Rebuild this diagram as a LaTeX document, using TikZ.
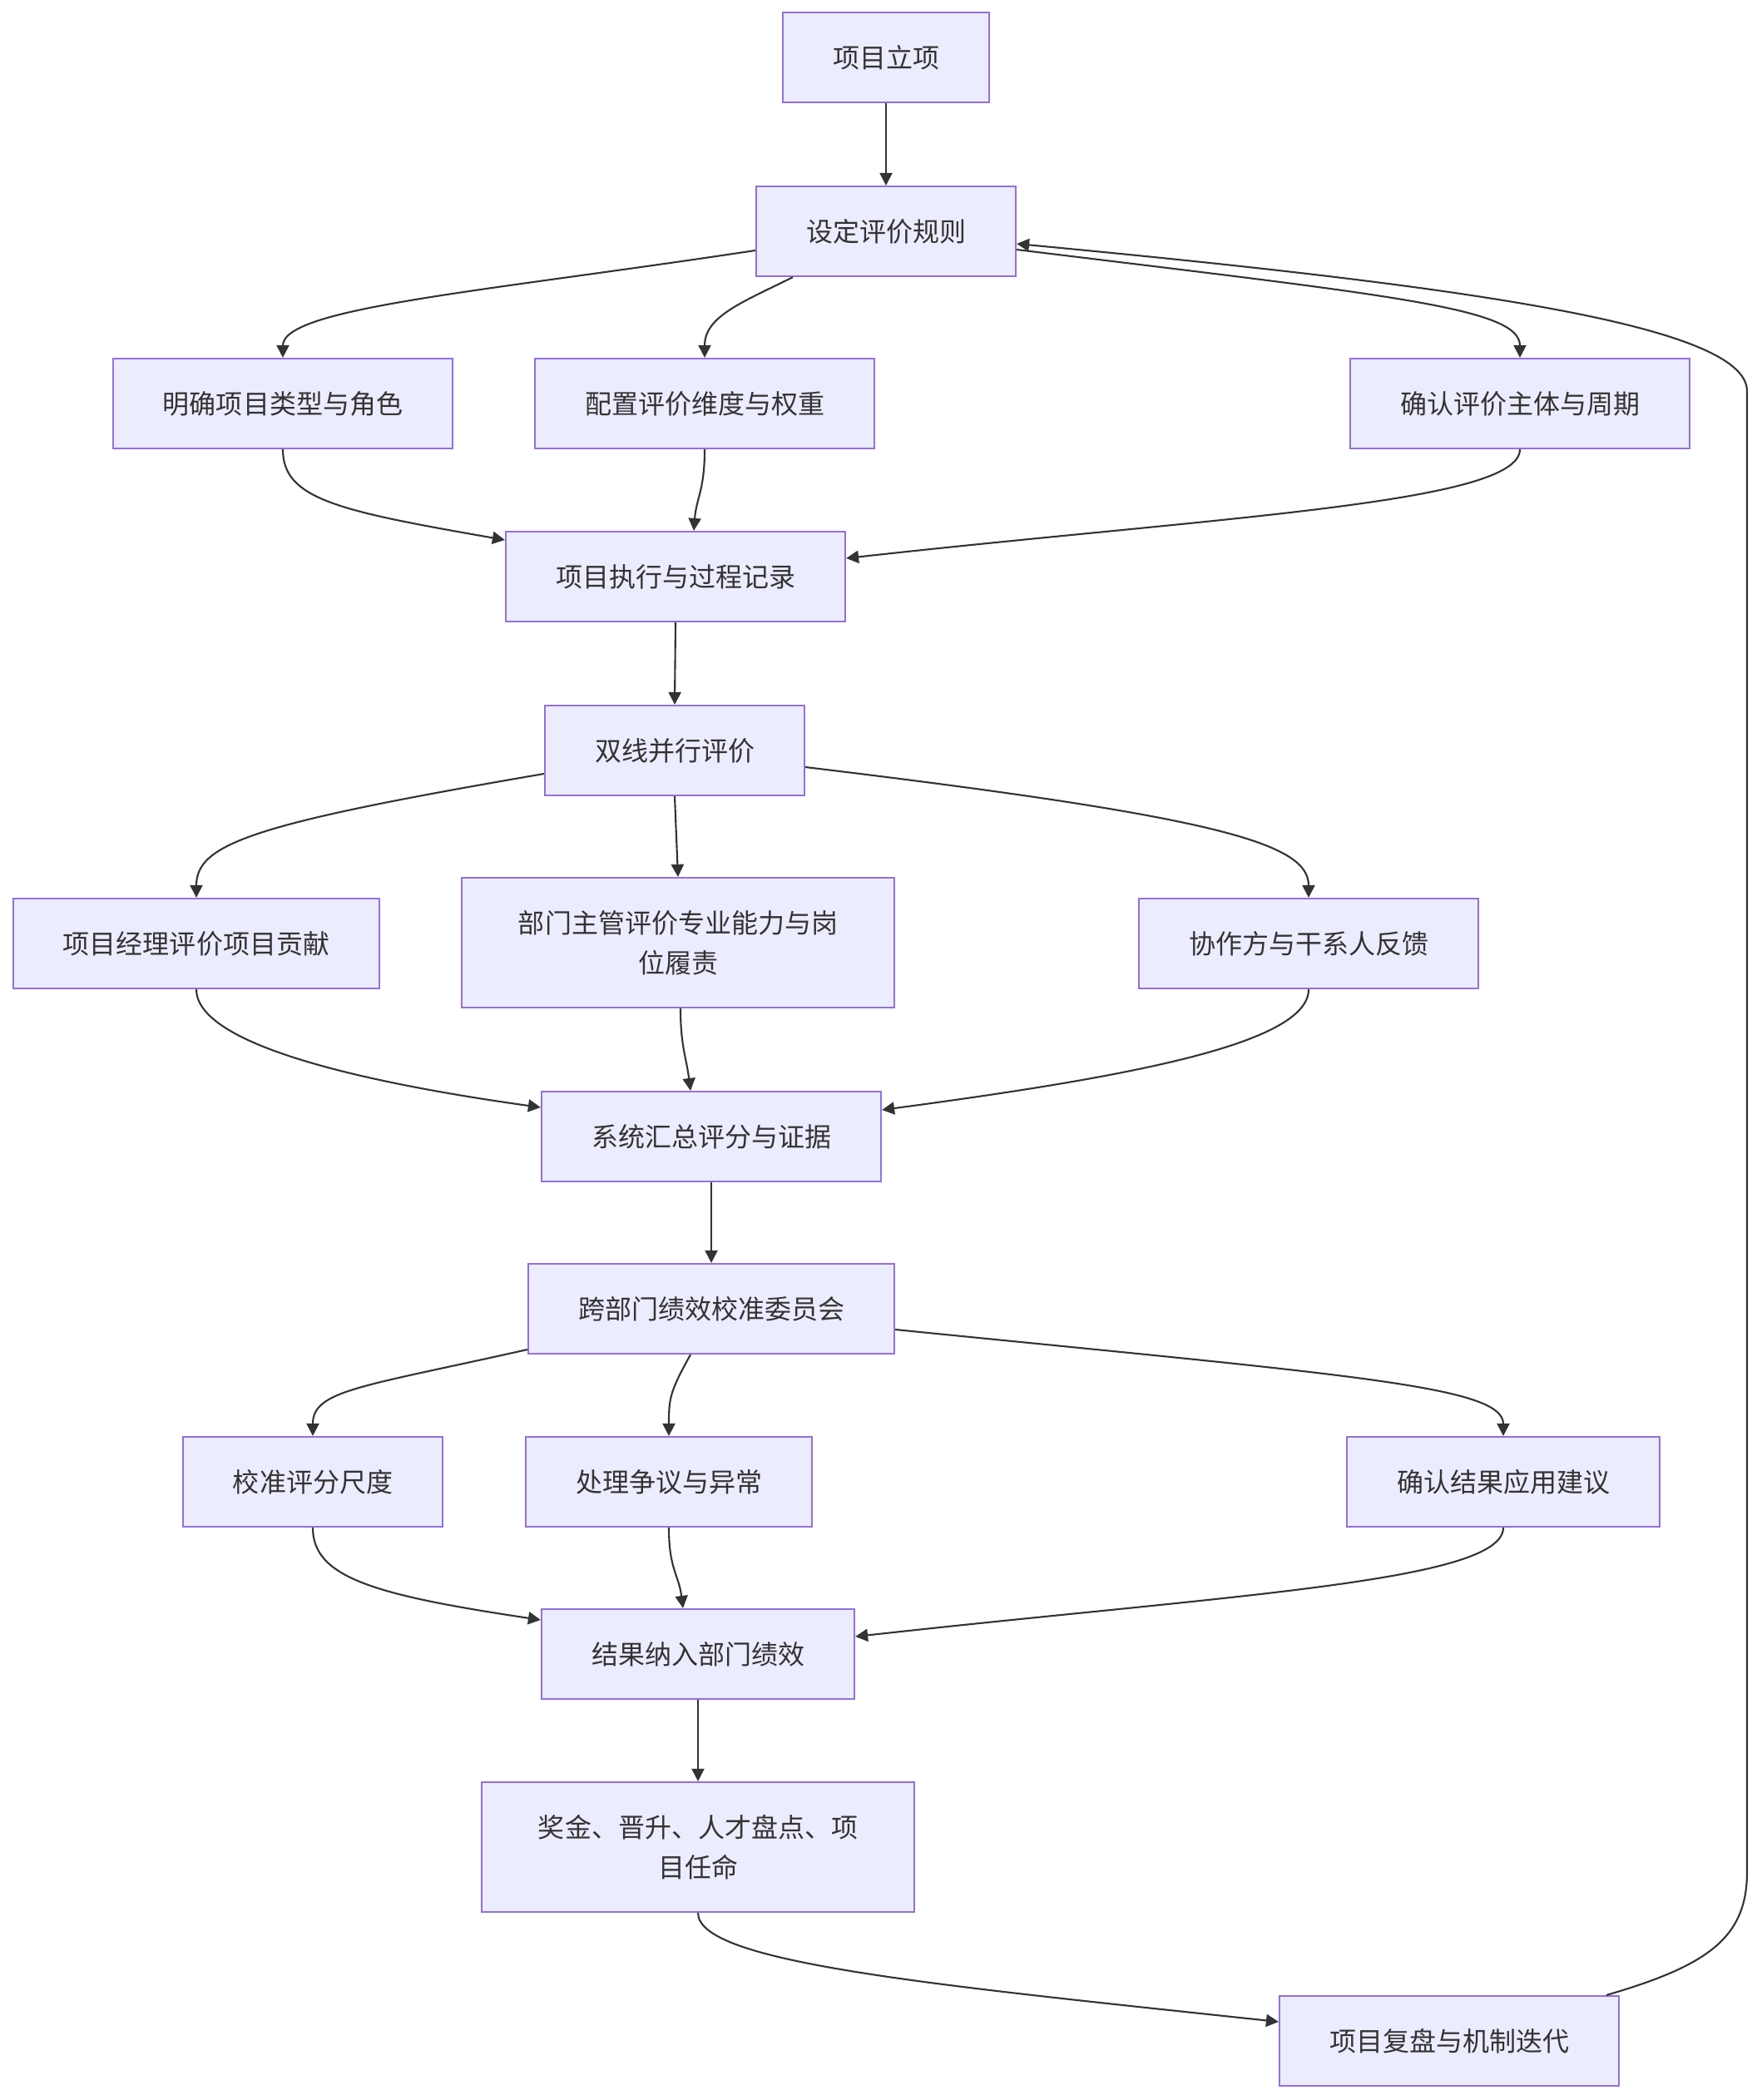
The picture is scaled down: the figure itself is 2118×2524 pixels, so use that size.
\documentclass[tikz,border=0pt]{standalone}
\usepackage{fontspec}
\usepackage{tikz}
\usetikzlibrary{arrows.meta,calc}
\newfontfamily\cjk{Noto Sans CJK SC}
\definecolor{BoxFill}{HTML}{ECECFF}
\definecolor{BoxRule}{HTML}{9370DB}
\definecolor{Ink}{HTML}{333333}

\begin{document}
\begin{tikzpicture}[
  x=0.01cm,y=-0.01cm,
  box/.style={draw=BoxRule,fill=BoxFill,line width=0.6pt,minimum height=1.08cm,inner xsep=0.6cm,align=center,text=Ink,font=\cjk\fontsize{9.1}{13.65}\selectfont},
  wide/.style={box,minimum width=5.2cm,minimum height=1.56cm},
  arr/.style={-{Triangle[length=0.15cm,width=0.15cm]},line width=0.6pt,color=Ink}
]
\fill[white] (0,0) rectangle (2118,2524);
\useasboundingbox (0,0) rectangle (2118,2524);
\node[box] (start) at (1065,69) {项目立项};
\node[box] (rules) at (1065,278) {设定评价规则};
\node[box] (roles) at (340,485) {明确项目类型与角色};
\node[box] (dims) at (847,485) {配置评价维度与权重};
\node[box] (raters) at (1827,485) {确认评价主体与周期};
\node[box] (exec) at (812,693) {项目执行与过程记录};
\node[box] (dual) at (811,902) {双线并行评价};
\node[box] (pm) at (236,1134) {项目经理评价项目贡献};
\node[wide] (mgr) at (815,1133) {部门主管评价专业能力与岗\\位履责};
\node[box] (peer) at (1573,1134) {协作方与干系人反馈};
\node[box] (summ) at (855,1366) {系统汇总评分与证据};
\node[box] (calib) at (855,1573) {跨部门绩效校准委员会};
\node[box] (scale) at (376,1781) {校准评分尺度};
\node[box] (dispute) at (804,1781) {处理争议与异常};
\node[box] (apply) at (1807,1781) {确认结果应用建议};
\node[box] (merge) at (839,1988) {结果纳入部门绩效};
\node[wide] (reward) at (839,2220) {奖金、晋升、人才盘点、项\\目任命};
\node[box] (review) at (1742,2453) {项目复盘与机制迭代};
\draw[arr] (start.south) -- (rules.north);
\draw[arr] ($(rules.west)+(0,23)$) .. controls +(-330,50) and +(0,-60) .. (roles.north);
\draw[arr] ($(rules.south)+(-112,0)$) .. controls +(-60,30) and +(0,-50) .. (dims.north);
\draw[arr] ($(rules.east)+(0,22)$) .. controls +(450,55) and +(0,-60) .. (raters.north);
\draw[arr] (roles.south) .. controls +(0,60) and +(-200,-35) .. ($(exec.west)+(0,-44)$);
\draw[arr] (dims.south) .. controls +(0,50) and +(3,-40) .. ($(exec.north)+(22,0)$);
\draw[arr] (raters.south) .. controls +(0,65) and +(450,-50) .. ($(exec.east)+(0,-22)$);
\draw[arr] (exec.south) -- (dual.north);
\draw[arr] ($(dual.west)+(0,28)$) .. controls +(-350,60) and +(0,-65) .. (pm.north);
\draw[arr] (dual.south) -- (mgr.north);
\draw[arr] ($(dual.east)+(0,20)$) .. controls +(500,60) and +(0,-65) .. (peer.north);
\draw[arr] (pm.south) .. controls +(0,60) and +(-250,-35) .. ($(summ.west)+(0,-35)$);
\draw[arr] ($(mgr.south)+(3,0)$) .. controls +(0,45) and +(-5,-40) .. ($(summ.north)+(-25,0)$);
\draw[arr] (peer.south) .. controls +(0,65) and +(300,-40) .. ($(summ.east)+(0,-32)$);
\draw[arr] (summ.south) -- (calib.north);
\draw[arr] ($(calib.west)+(0,49)$) .. controls +(-200,45) and +(0,-55) .. (scale.north);
\draw[arr] ($(calib.south)+(-25,0)$) .. controls +(-25,45) and +(0,-45) .. (dispute.north);
\draw[arr] ($(calib.east)+(0,25)$) .. controls +(550,55) and +(0,-60) .. (apply.north);
\draw[arr] (scale.south) .. controls +(0,60) and +(-200,-30) .. ($(merge.west)+(0,-41)$);
\draw[arr] (dispute.south) .. controls +(0,50) and +(-5,-40) .. ($(merge.north)+(-18,0)$);
\draw[arr] (apply.south) .. controls +(0,65) and +(450,-50) .. ($(merge.east)+(0,-21)$);
\draw[arr] (merge.south) -- (reward.north);
\draw[arr] (reward.south) .. controls +(0,60) and +(-420,-45) .. ($(review.west)+(0,-23)$);
\draw[arr] ($(review.north)+(189,0)$) .. controls +(120,-35) and +(0,80) .. (2100,2250) -- (2100,470) .. controls +(0,-80) and +(530,50) .. ($(rules.east)+(0,15)$);
\end{tikzpicture}
\end{document}
